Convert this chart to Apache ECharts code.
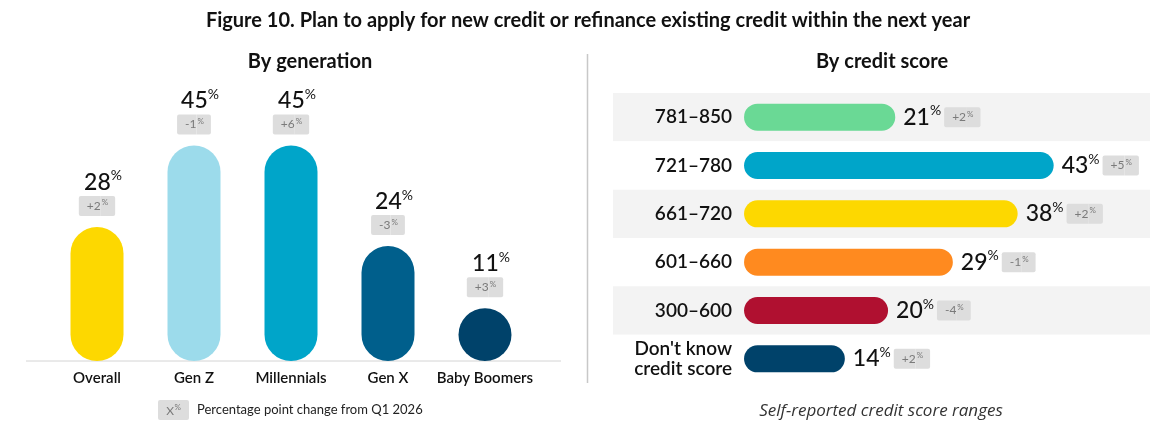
<!DOCTYPE html>
<html>
<head>
<meta charset="utf-8">
<script src="https://cdn.jsdelivr.net/npm/echarts@6/dist/echarts.min.js"></script>
<style>
html,body{margin:0;padding:0;background:#fff;}
#c{width:1175px;height:440px;}
</style>
</head>
<body>
<div id="c"></div>
<script>
// ---- Data ----
const genCategories = ['Overall', 'Gen Z', 'Millennials', 'Gen X', 'Baby Boomers'];
const genValues = [28, 45, 45, 24, 11];
const genChanges = [2, -1, 6, -3, 3];
const genColors = ['#FDD800', '#9CDBEB', '#00A5C9', '#005F8C', '#00426A'];

const scoreCategories = ['781–850', '721–780', '661–720', '601–660', '300–600', "Don't know\ncredit score"];
const scoreValues = [21, 43, 38, 29, 20, 14];
const scoreChanges = [2, 5, 2, -1, -4, 2];
const scoreColors = ['#6AD995', '#00A5C9', '#FDD800', '#FF8A1F', '#B01030', '#00426A'];

const FONT = 'Lato, "Noto Sans", sans-serif';
const fmtChg = v => (v > 0 ? '+' : '') + v;

const badgeRich = {
  b: {fontFamily: FONT, fontSize: 12, color: '#7a7a7a', backgroundColor: '#dddddd', height: 14, padding: [3, 0, 3, 8], borderRadius: [2, 0, 0, 2]},
  bp: {fontFamily: FONT, fontSize: 8, color: '#7a7a7a', backgroundColor: '#dddddd', height: 12, padding: [1, 7, 7, 1], borderRadius: [0, 2, 2, 0]}
};

const chart = echarts.init(document.getElementById('c'), null, {renderer: 'canvas'});

const option = {
  animation: false,
  backgroundColor: '#fff',
  grid: [
    {left: 48.5, width: 485, top: 121.5, height: 239.5, containLabel: false},
    {left: 613, width: 537, top: 93, height: 290, containLabel: false}
  ],
  xAxis: [
    {gridIndex: 0, type: 'category', data: genCategories,
     axisLine: {show: false}, axisTick: {show: false},
     axisLabel: {interval: 0, margin: 10, fontFamily: FONT, fontSize: 15, fontWeight: 600, color: '#111'}},
    {gridIndex: 1, type: 'value', min: -18.2, max: 56.38, show: false}
  ],
  yAxis: [
    {gridIndex: 0, type: 'value', min: 0, max: 50, show: false},
    {gridIndex: 1, type: 'category', data: scoreCategories, inverse: true, offset: -131,
     axisLine: {show: false, onZero: false}, axisTick: {show: false}, splitLine: {show: false},
     splitArea: {show: true, areaStyle: {color: ['#f3f3f3', '#ffffff']}},
     axisLabel: {interval: 0, margin: 12, fontFamily: FONT, fontSize: 19, fontWeight: 600, color: '#111', lineHeight: 20, align: 'right'}}
  ],
  series: [
    {
      type: 'bar', xAxisIndex: 0, yAxisIndex: 0, barWidth: 53,
      data: genValues.map((v, i) => ({value: v, itemStyle: {color: genColors[i]}})),
      itemStyle: {borderRadius: 26.5},
      label: {
        show: true, position: 'top', distance: 11,
        formatter: p => `{v|${p.value}}{p|%}\n{b|${fmtChg(genChanges[p.dataIndex])}}{bp|%}`,
        rich: Object.assign({
          v: {fontFamily: FONT, fontSize: 23, fontWeight: 500, color: '#111', padding: [0, 0, 0, 12], lineHeight: 27},
          p: {fontFamily: FONT, fontSize: 14, color: '#111', verticalAlign: 'top', lineHeight: 27}
        }, badgeRich)
      }
    },
    {
      type: 'bar', xAxisIndex: 1, yAxisIndex: 1, barWidth: 27,
      data: scoreValues.map((v, i) => ({value: v, itemStyle: {color: scoreColors[i]}})),
      itemStyle: {borderRadius: 13.5},
      label: {
        show: true, position: 'right', distance: 8,
        formatter: p => `{v|${p.value}}{p|%}{s|}{b|${fmtChg(scoreChanges[p.dataIndex])}}{bp|%}`,
        rich: Object.assign({
          v: {fontFamily: FONT, fontSize: 23, fontWeight: 500, color: '#111', lineHeight: 27},
          p: {fontFamily: FONT, fontSize: 14, color: '#111', verticalAlign: 'top', lineHeight: 27},
          s: {width: 3}
        }, badgeRich)
      }
    }
  ],
  graphic: [
    {type: 'text', x: 588, y: 21, style: {text: 'Figure 10. Plan to apply for new credit or refinance existing credit within the next year', font: 'bold 20px ' + FONT, fill: '#111', textAlign: 'center', textVerticalAlign: 'middle'}},
    {type: 'text', x: 310, y: 62, style: {text: 'By generation', font: 'bold 20px ' + FONT, fill: '#111', textAlign: 'center', textVerticalAlign: 'middle'}},
    {type: 'text', x: 882, y: 62, style: {text: 'By credit score', font: 'bold 20px ' + FONT, fill: '#111', textAlign: 'center', textVerticalAlign: 'middle'}},
    {type: 'line', shape: {x1: 26, y1: 361, x2: 561, y2: 361}, style: {stroke: '#d4d4d4', lineWidth: 1}, z: -1},
    {type: 'line', shape: {x1: 587.5, y1: 54, x2: 587.5, y2: 383}, style: {stroke: '#c8c8c8', lineWidth: 1.5}},
    {type: 'rect', shape: {x: 158, y: 400, width: 31, height: 20, r: 2}, style: {fill: '#dddddd'}},
    {type: 'text', x: 174, y: 411, style: {text: 'X', font: '12px ' + FONT, fill: '#7a7a7a', textAlign: 'right', textVerticalAlign: 'middle'}},
    {type: 'text', x: 174.5, y: 407.5, style: {text: '%', font: '8px ' + FONT, fill: '#7a7a7a', textAlign: 'left', textVerticalAlign: 'middle'}},
    {type: 'text', x: 197, y: 410, style: {text: 'Percentage point change from Q1 2026', font: '13px ' + FONT, fill: '#222', textVerticalAlign: 'middle'}},
    {type: 'text', x: 881, y: 411, style: {text: 'Self-reported credit score ranges', font: 'italic 17px "Open Sans", ' + FONT, fill: '#333', textAlign: 'center', textVerticalAlign: 'middle'}}
  ]
};
chart.setOption(option);
</script>
</body>
</html>
